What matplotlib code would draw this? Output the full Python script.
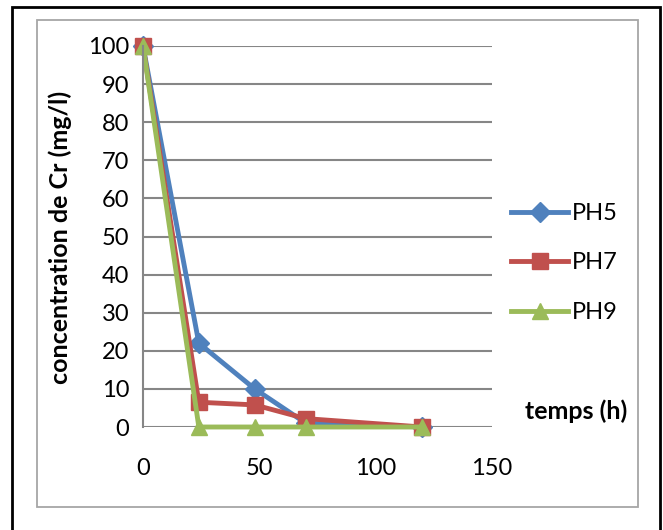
import matplotlib.pyplot as plt
from matplotlib.patches import Rectangle

plt.rcParams['font.family'] = ['Lato', 'DejaVu Sans']

# data
temps = [0, 24, 48, 70, 120]
ph5 = [100, 22, 10, 1, 0]
ph7 = [100, 6.5, 5.8, 2.2, 0]
ph9 = [100, 0, 0, 0, 0]
labels = ['PH5', 'PH7', 'PH9']
colors = ['#4F81BD', '#C0504D', '#9BBB59']
markers = ['D', 's', '^']

fig = plt.figure(figsize=(6.63, 5.30), dpi=100)
ax = fig.add_axes([143/663, 1 - 427/530, (492 - 143)/663, (427 - 46)/530])

# frames around the chart
fig.patches.append(Rectangle((12/663, -0.01), (660 - 12)/663, 1 - 7/530 + 0.01,
                             transform=fig.transFigure, fill=False,
                             edgecolor='black', linewidth=2))
fig.patches.append(Rectangle((37/663, 1 - 507/530), (638 - 37)/663, (507 - 20)/530,
                             transform=fig.transFigure, fill=False,
                             edgecolor='#A6A6A6', linewidth=1.3))

for ys, lab, c, m, ms in zip([ph5, ph7, ph9], labels, colors, markers, [10, 11, 11]):
    ax.plot(temps, ys, color=c, marker=m, markersize=ms, linewidth=3.5,
            label=lab, clip_on=False)

ax.set_xlim(0, 150)
ax.set_ylim(0, 100)
ax.set_xticks([0, 50, 100, 150])
ax.set_yticks(range(0, 101, 10))
ax.grid(axis='y', color='#868686', linewidth=1.5)
ax.set_axisbelow(True)
for s in ['top', 'right', 'bottom']:
    ax.spines[s].set_visible(False)
ax.spines['left'].set_color('#868686')
ax.spines['left'].set_linewidth(1.5)
ax.tick_params(axis='both', length=0, labelsize=17)
ax.tick_params(axis='x', pad=22)
ax.tick_params(axis='y', pad=10)

fig.text(60/663, 1 - 237/530, 'concentration de Cr (mg/l)', rotation=90,
         ha='center', va='center', fontsize=18, fontweight='bold')
fig.text(576/663, 1 - 411/530, 'temps (h)', ha='center', va='center',
         fontsize=18, fontweight='bold')

ax.legend(loc='center left', bbox_to_anchor=(490/663, 1 - 263/530),
          bbox_transform=fig.transFigure, frameon=False, fontsize=17,
          handlelength=2.4, handletextpad=0.15, labelspacing=1.2)

fig.savefig('out.png', dpi=100)
